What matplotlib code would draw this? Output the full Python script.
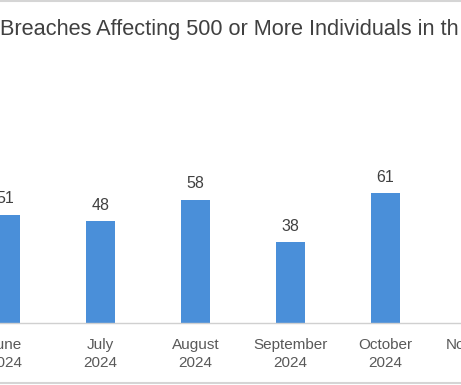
import numpy as np
import matplotlib.pyplot as plt
from matplotlib.lines import Line2D

plt.switch_backend("agg")

# data (November bar is outside the visible crop)
months = ["June", "July", "August", "September", "October", "November"]
year = "2024"
breaches = [51, 48, 58, 38, 61, np.nan]

TITLE = "Breaches Affecting 500 or More Individuals in th"
BAR_COLOR = "#4a8fd9"
W, H, DPI = 461, 385, 100
AX_W = 560  # axes run past the right edge so the November label is cut, as in the crop

fig = plt.figure(figsize=(W / DPI, H / DPI), dpi=DPI)
fig.patch.set_facecolor("white")

# baseline at y=323px, plot top at y=60px
ax = fig.add_axes([0, (H - 323) / H, AX_W / W, (323 - 60) / H])
x = np.arange(len(months))
vals = np.array(breaches, dtype=float)
bars = ax.bar(x, np.nan_to_num(vals), width=0.31, color=BAR_COLOR)

for bar, v in zip(bars, vals):
    if np.isnan(v):
        continue
    ax.annotate(
        f"{v:.0f}",
        xy=(bar.get_x() + bar.get_width() / 2, bar.get_height()),
        xytext=(0, 16),
        textcoords="offset pixels",
        ha="center",
        va="center",
        fontsize=11.5,
        color="#404040",
        family="Liberation Sans",
    )

ax.set_xticks(x)
ax.set_xticklabels([f"{m}\n{year}" for m in months], fontsize=11,
                   color="#595959", family="Liberation Sans", linespacing=1.38)
# limits after the ticks, otherwise set_xticks widens the view
ax.set_xlim(-5.5 / 95, (AX_W - 5.5) / 95)
ax.set_ylim(0, (323 - 60) / 2.125)
ax.tick_params(axis="x", length=0, pad=11)
ax.set_yticks([])
for side in ["top", "left", "right"]:
    ax.spines[side].set_visible(False)
ax.spines["bottom"].set_color("#d0d0d0")
ax.spines["bottom"].set_linewidth(1.0)

fig.text(0.0, 1 - 30 / H, TITLE, ha="left", va="center", fontsize=15.7,
         color="#404040", family="Liberation Sans")

# chart frame edges visible at top and bottom of the crop
fig.add_artist(Line2D([0, 1], [1 - 1 / H, 1 - 1 / H], transform=fig.transFigure,
                      color="#d5d5d5", lw=1.5))
fig.add_artist(Line2D([0, 1], [2 / H, 2 / H], transform=fig.transFigure,
                      color="#d5d5d5", lw=1.5))

fig.savefig("out.png", dpi=DPI)
plt.close(fig)
